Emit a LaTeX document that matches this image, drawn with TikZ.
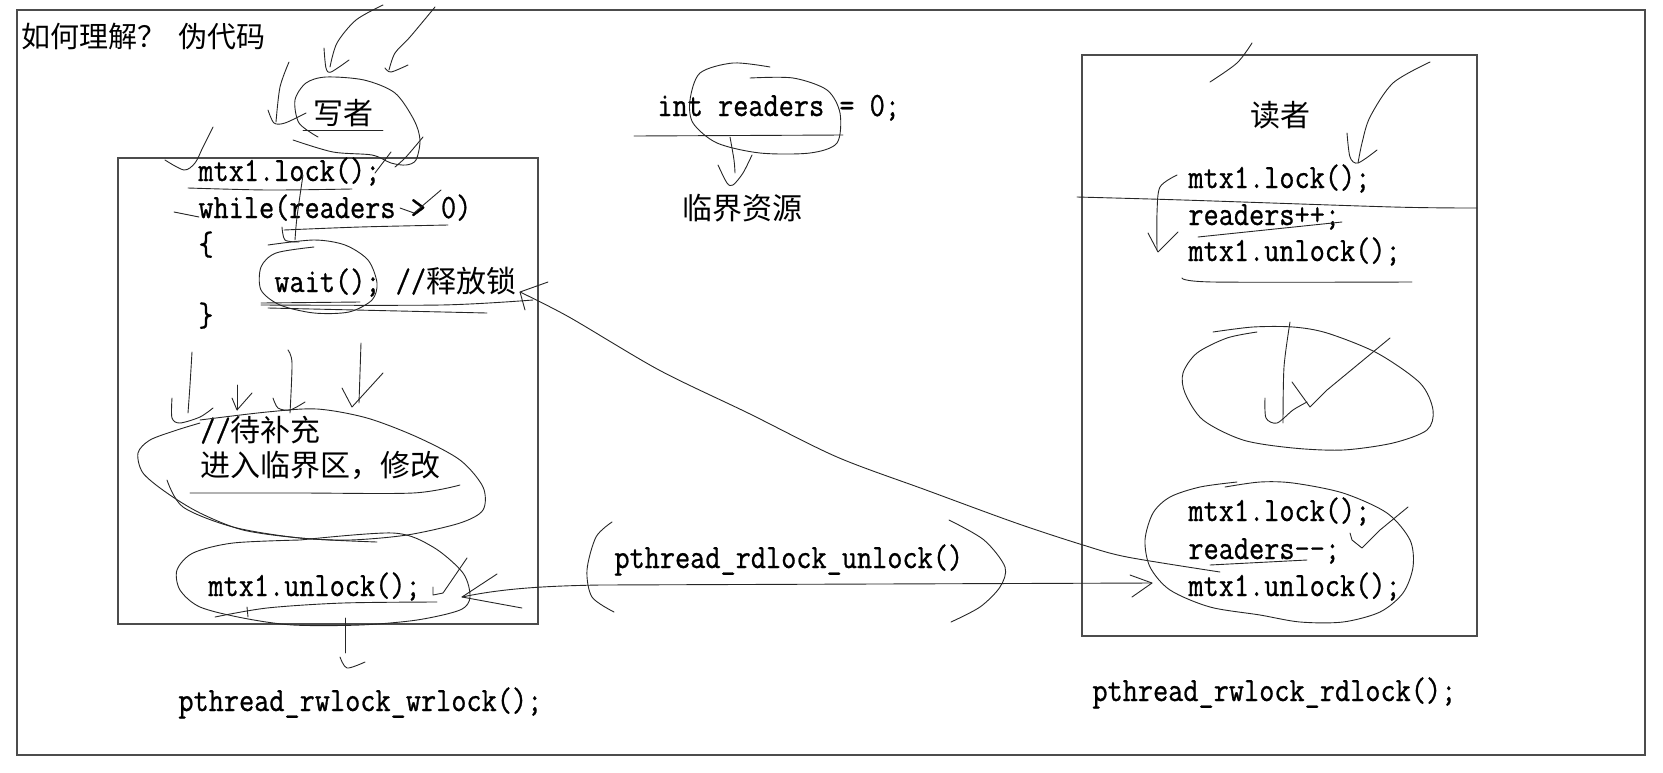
\documentclass[tikz,border=0pt]{standalone}
\usepackage{fontspec}
\newfontfamily\codefont{Latin Modern Mono}[FakeStretch=0.866, FakeBold=0.8]
\newfontfamily\cjk{Noto Sans CJK SC}
\tikzset{
  pen/.style={line width=0.45pt, draw=black!85, line cap=round, line join=round},
  frame/.style={line width=0.7pt, draw=black!70},
  code/.style={font=\codefont\fontsize{17pt}{19pt}\selectfont, inner sep=0pt, anchor=west, text height=11pt, text depth=3pt},
  cjktext/.style={font=\cjk\fontsize{15pt}{18pt}\selectfont, inner sep=0pt},
}
\newcommand\cj[1]{{\cjk\fontsize{15pt}{18pt}\selectfont #1}}
\begin{document}
\begin{tikzpicture}[x=0.5pt,y=-0.5pt]
\useasboundingbox (0,0) rectangle (1663,772);
% frames
\draw[frame] (17,10) rectangle (1645,755);
\draw[frame] (118,158) rectangle (538,624);
\draw[frame] (1082,55) rectangle (1477,636);
% title
\node[cjktext, anchor=west, font=\cjk\fontsize{14.5pt}{16pt}\selectfont] (title) at (21,37) {如何理解？\hspace{6pt}伪代码};
% writer
\node[cjktext] (writer) at (343,113) {写者};
\node[code] (w1) at (198,173) {mtx1.lock();};
\node[code] (w2) at (198,210) {while(readers > 0)};
\node[code] (w3) at (198,247) {\{};
\node[code] (w4) at (274,284) {wait(); //\cj{释放锁}};
\node[code] (w5) at (198,318) {\}};
\node[code] (w6) at (200,433) {//\cj{待补充}};
\node[code] (w7) at (200,468) {\cj{进入临界区，修改}};
\node[code] (w8) at (208,588) {mtx1.unlock();};
\node[code] (wl) at (178,703) {pthread\_rwlock\_wrlock();};
% shared
\node[code] (intr) at (657,108) {int readers = 0;};
\node[cjktext] (res) at (742,208) {临界资源};
\node[code] (ul) at (614,560) {pthread\_rdlock\_unlock()};
% reader
\node[cjktext] (reader) at (1280,115) {读者};
\node[code] (r1) at (1188,180) {mtx1.lock();};
\node[code] (r2) at (1188,217) {readers++;};
\node[code] (r3) at (1188,253) {mtx1.unlock();};
\node[code] (r4) at (1188,513) {mtx1.lock();};
\node[code] (r5) at (1188,551) {readers\char"2D\char"2D;};
\node[code] (r6) at (1188,588) {mtx1.unlock();};
\node[code] (rl) at (1092,693) {pthread\_rwlock\_rdlock();};

% ---- hand drawn strokes: writer top
\draw[pen] plot[smooth] coordinates {(383,5) (356,20) (337,43) (330,67)};
\draw[pen] plot[smooth] coordinates {(324,48) (326,68) (331,72) (349,60)};
\draw[pen] plot[smooth] coordinates {(435,7) (410,37) (395,53) (389,70)};
\draw[pen] plot[smooth] coordinates {(385,68) (391,72) (408,65)};
\draw[pen] plot[smooth] coordinates {(289,62) (280,87) (276,122)};
\draw[pen] plot[smooth] coordinates {(268,110) (274,123) (285,123) (306,113)};
\draw[pen] plot[smooth] coordinates {(318,137) (299,123) (295,100) (306,83) (326,77) (364,80) (395,93) (414,120) (420,140) (416,160) (406,165) (391,163) (372,155) (333,152) (293,140)};
\draw[pen] (303,130) -- (383,130);
\draw[pen] plot[smooth] coordinates {(423,137) (406,157) (395,167)};
\draw[pen] (391,152) -- (375,173);
\draw[pen] plot[smooth] coordinates {(213,127) (203,147) (195,163) (184,170) (165,160)};
% writer code marks
\draw[pen] plot[smooth] coordinates {(188,188) (268,190) (352,189)};
\draw[pen] plot[smooth] coordinates {(303,175) (297,217) (295,240)};
\draw[pen] plot[smooth] coordinates {(282,227) (285,240) (299,242)};
\draw[pen] (174,212) -- (199,217);
\draw[pen] plot[smooth] coordinates {(284,230) (360,227) (448,225)};
\draw[pen] (400,208) -- (414,213) -- (441,190);
\draw[pen] plot[smooth] coordinates {(314,247) (276,253) (261,267) (261,290) (280,305) (314,313) (349,312) (372,300) (377,283) (368,260) (345,245) (314,240) (268,245)};
\draw[pen] (261,303) -- (360,302);
\draw[pen] plot[smooth] coordinates {(261,305) (441,305) (533,300)};
\draw[pen] (268,308) -- (487,313);
% arrows above critical region
\draw[pen] plot[smooth] coordinates {(192,352) (190,385) (188,413)};
\draw[pen] plot[smooth] coordinates {(172,398) (172,418) (180,423) (200,417) (213,408)};
\draw[pen] (237,385) -- (237,410);
\draw[pen] (232,398) -- (237,410) -- (252,393);
\draw[pen] plot[smooth] coordinates {(288,350) (292,363) (290,413)};
\draw[pen] plot[smooth] coordinates {(273,398) (278,408) (290,410) (305,402)};
\draw[pen] (361,343) -- (359,403);
\draw[pen] (342,388) -- (352,407) -- (383,373);
% critical region ellipse
\draw[pen] plot[smooth] coordinates {(200,420) (267,412) (317,409) (367,418) (417,437) (460,460) (483,487) (483,510) (460,523) (407,535) (350,540) (300,538) (243,530) (200,513) (167,493) (143,473) (138,453) (150,440) (177,430) (200,423)};
\draw[pen] plot[smooth] coordinates {(167,480) (183,507) (233,527) (300,538) (377,542)};
\draw[pen] plot[smooth] coordinates {(190,493) (300,493) (413,493) (460,485)};
% unlock ellipse
\draw[pen] plot[smooth] coordinates {(300,540) (393,533) (433,547) (463,573) (470,597) (460,610) (417,620) (360,625) (293,625) (243,618) (200,607) (180,590) (177,570) (193,553) (233,543) (300,540)};
\draw[pen] plot[smooth] coordinates {(215,617) (267,608) (343,603) (437,602)};
\draw[pen] (247,607) -- (248,617);
\draw[pen] (433,587) -- (433,595) -- (443,593) -- (467,558);
\draw[pen] (345,618) -- (345,653);
\draw[pen] plot[smooth] coordinates {(340,657) (347,668) (365,662)};
% critical resource circle
\draw[pen] (634,136) -- (843,135);
\draw[pen] plot[smooth] coordinates {(770,67) (733,63) (700,73) (690,100) (693,123) (717,143) (760,153) (810,153) (837,143) (840,113) (827,90) (793,78) (750,78)};
\draw[pen] plot[smooth] coordinates {(730,137) (734,160) (735,173)};
\draw[pen] plot[smooth] coordinates {(718,165) (727,183) (733,185) (743,173) (752,155)};
% reader marks
\draw[pen] plot[smooth] coordinates {(1210,82) (1237,63) (1252,43)};
\draw[pen] plot[smooth] coordinates {(1430,62) (1393,83) (1370,117) (1362,143) (1358,163)};
\draw[pen] plot[smooth] coordinates {(1347,133) (1350,157) (1358,163) (1377,150)};
\draw[pen] plot[smooth] coordinates {(1177,175) (1160,187) (1157,213) (1157,250)};
\draw[pen] (1148,233) -- (1158,252) -- (1178,232);
\draw[pen] plot[smooth] coordinates {(1077,197) (1183,200) (1393,207) (1477,208)};
\draw[pen] (1198,237) -- (1342,222);
\draw[pen] plot[smooth] coordinates {(1182,278) (1213,282) (1412,282)};
% empty ellipse with check
\draw[pen] plot[smooth] coordinates {(1213,332) (1253,327) (1293,327) (1327,333) (1377,353) (1420,383) (1433,410) (1427,430) (1393,443) (1343,450) (1293,448) (1243,440) (1203,420) (1185,393) (1183,373) (1197,353) (1227,338) (1257,332)};
\draw[pen] plot[smooth] coordinates {(1290,322) (1284,367) (1283,423)};
\draw[pen] plot[smooth] coordinates {(1265,398) (1266,418) (1277,423) (1293,410) (1307,402)};
\draw[pen] (1292,382) -- (1310,407) -- (1327,390) -- (1390,338);
% lower reader ellipse
\draw[pen] plot[smooth] coordinates {(1225,487) (1260,482) (1293,483) (1343,493) (1387,513) (1410,540) (1413,567) (1403,593) (1380,612) (1343,622) (1300,622) (1260,615) (1210,607) (1170,590) (1150,567) (1145,540) (1153,513) (1170,497) (1200,487) (1237,482)};
\draw[pen] (1350,533) -- (1352,540) -- (1362,548) -- (1380,530) -- (1408,507);
\draw[pen] (1210,565) -- (1307,560);
% connectors
\coordinate (hl) at (462,597);
\coordinate (hr) at (1152,583);
\draw[pen] (hl) .. controls (500,589) and (540,586) .. (600,585) -- (hr);
\draw[pen] (1130,575) -- (hr) -- (1132,597);
\draw[pen] (497,574) -- (hl) -- (522,608);
\coordinate (cs) at (1220,572);
\coordinate (ce) at (520,292);
\draw[pen] plot[smooth] coordinates {(1220,572) (1127,557) (1083,545) (1016,523) (926,490) (837,457) (748,413) (659,370) (569,317) (520,292)};
\draw[pen] (548,282) -- (ce) -- (525,310);
% parentheses round pthread_rdlock_unlock
\draw[pen] plot[smooth] coordinates {(612,522) (596,537) (587,570) (592,597) (614,612)};
\draw[pen] plot[smooth] coordinates {(949,520) (984,540) (1005,567) (1000,587) (980,607) (951,622)};
\end{tikzpicture}
\end{document}
